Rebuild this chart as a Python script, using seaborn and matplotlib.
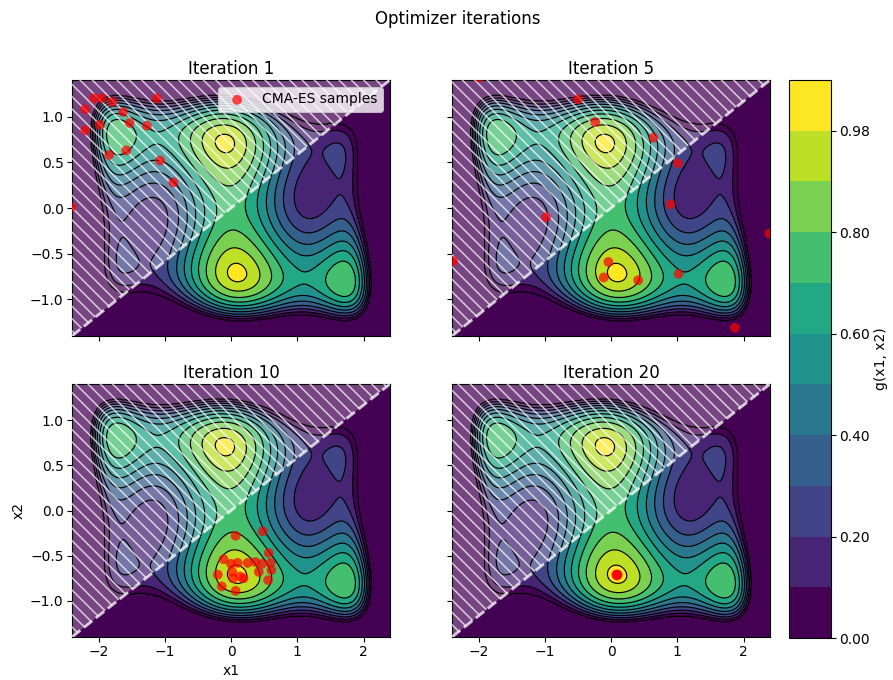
import numpy as np
import matplotlib
matplotlib.use("Agg")
import matplotlib.pyplot as plt
import seaborn as sns

# ---------------- data ----------------
ITERATIONS = [1, 5, 10, 20]

ITER1_X1 = [-2.07, -1.95, -1.79, -1.12, -2.20, -1.63, -1.53, -1.98, -1.27, -2.20, -1.84, -1.58, -1.07, -0.87, -2.41]
ITER1_X2 = [1.20, 1.20, 1.16, 1.20, 1.08, 1.05, 0.93, 0.91, 0.90, 0.85, 0.58, 0.63, 0.52, 0.28, 0.01]

ITER5_X1 = [-1.99, -0.50, -0.24, 0.64, 1.01, 0.90, -0.98, -2.38, 2.39, -0.04, -0.11, 0.41, 1.02, 1.87]
ITER5_X2 = [1.43, 1.19, 0.94, 0.77, 0.49, 0.04, -0.10, -0.58, -0.28, -0.59, -0.76, -0.79, -0.72, -1.31]

ITER10_X1 = [0.07, 0.48, 0.57, -0.11, 0.00, 0.10, 0.25, 0.37, 0.47, 0.60, 0.42, 0.61, -0.20, 0.03,
             0.14, 0.19, 0.56, -0.14, 0.07, 0.02]
ITER10_X2 = [-0.28, -0.23, -0.47, -0.54, -0.59, -0.58, -0.58, -0.57, -0.59, -0.58, -0.68, -0.66, -0.71, -0.75,
             -0.73, -0.75, -0.77, -0.84, -0.89, -0.68]

ITER20_X1 = [0.09, 0.09, 0.10, 0.09, 0.08]
ITER20_X2 = [-0.71, -0.71, -0.71, -0.72, -0.71]

SAMPLES_X1 = [ITER1_X1, ITER5_X1, ITER10_X1, ITER20_X1]
SAMPLES_X2 = [ITER1_X2, ITER5_X2, ITER10_X2, ITER20_X2]

LEVELS = [0.0, 0.1, 0.2, 0.3, 0.4, 0.5, 0.6, 0.7, 0.8, 0.9, 0.98, 1.0]
CBAR_TICKS = [0.0, 0.2, 0.4, 0.6, 0.8, 0.98]

X1_RANGE = (-2.4, 2.4)
X2_RANGE = (-1.4, 1.4)
F_SPAN = 4.05                 # objective gap (above the minimum) mapped to g = 0
CONSTRAINT_SLOPE = 1.4 / 2.4  # hatched (infeasible) region: x2 > slope * x1


def six_hump_camel(x1, x2):
    return (4 - 2.1 * x1 ** 2 + x1 ** 4 / 3) * x1 ** 2 + x1 * x2 + (-4 + 4 * x2 ** 2) * x2 ** 2


# ---------------- field ----------------
gx1 = np.linspace(X1_RANGE[0], X1_RANGE[1], 480)
gx2 = np.linspace(X2_RANGE[0], X2_RANGE[1], 320)
X1, X2 = np.meshgrid(gx1, gx2)
F = six_hump_camel(X1, X2)
G = 1 - np.clip((F - F.min()) / F_SPAN, 0, 1)

band_colors = [plt.get_cmap("viridis")(v) for v in np.linspace(0, 1, len(LEVELS) - 1)]

# ---------------- figure ----------------
DPI = 74
S = 100 / 74
plt.rcParams.update({
    "font.family": ["DejaVu Sans"],
    "font.size": 10 * S,
    "axes.linewidth": 0.8 * S,
    "xtick.major.width": 0.8 * S,
    "ytick.major.width": 0.8 * S,
    "xtick.major.size": 3.5 * S,
    "ytick.major.size": 3.5 * S,
    "xtick.labelsize": 10 * S,
    "ytick.labelsize": 10 * S,
    "hatch.linewidth": 1.5,
})

fig = plt.figure(figsize=(893 / DPI, 680 / DPI), dpi=DPI)
W, H = 893, 680
boxes = [
    (72, 80, 318, 256),
    (452, 80, 318, 256),
    (72, 384, 318, 253),
    (452, 384, 318, 253),
]
axes = []
for (l, t, w, h) in boxes:
    ax = fig.add_axes([l / W, 1 - (t + h) / H, w / W, h / H])
    axes.append(ax)

cs = None
for i, ax in enumerate(axes):
    cs = ax.contourf(X1, X2, G, levels=LEVELS, colors=band_colors, zorder=1)

    xs = np.array(X1_RANGE)
    ax.fill_between(xs, CONSTRAINT_SLOPE * xs, X2_RANGE[1], facecolor=(1, 1, 1, 0.27),
                    edgecolor="none", linewidth=0, zorder=1.5)
    ax.contour(X1, X2, G, levels=LEVELS[:-1], colors="black", linewidths=1.15, zorder=2)
    ax.fill_between(xs, CONSTRAINT_SLOPE * xs, X2_RANGE[1], facecolor="none",
                    edgecolor=(1, 1, 1, 0.72), hatch="\\\\", linewidth=0, zorder=3)
    ax.plot(xs, CONSTRAINT_SLOPE * xs, linestyle="--", color="white", alpha=0.75,
            linewidth=2.8, zorder=4)

    sns.scatterplot(x=SAMPLES_X1[i], y=SAMPLES_X2[i], ax=ax, color="red", alpha=0.7,
                    s=90, edgecolor="none", zorder=5,
                    label="CMA-ES samples" if i == 0 else None, legend=(i == 0))

    ax.set_xlim(*X1_RANGE)
    ax.set_ylim(*X2_RANGE)
    ax.set_xticks([-2, -1, 0, 1, 2])
    ax.set_yticks([-1.0, -0.5, 0.0, 0.5, 1.0])
    ax.set_title(f"Iteration {ITERATIONS[i]}", fontsize=12 * S)
    if i in (0, 1):
        ax.tick_params(labelbottom=False)
    if i in (1, 3):
        ax.tick_params(labelleft=False)
    ax.set_xlabel("")
    ax.set_ylabel("")

leg = axes[0].legend(loc="upper right", fontsize=10 * S, framealpha=0.8)

axes[2].set_xlabel("x1", fontsize=10 * S)
axes[2].set_ylabel("x2", fontsize=10 * S)

cax = fig.add_axes([789 / W, 1 - 638 / H, 42 / W, 558 / H])
cb = fig.colorbar(cs, cax=cax, ticks=CBAR_TICKS, format="%.2f")
cb.set_label("g(x1, x2)", fontsize=10 * S)

fig.suptitle("Optimizer iterations", x=0.513, y=0.985, fontsize=12 * S)

fig.savefig("out.png", dpi=DPI)
